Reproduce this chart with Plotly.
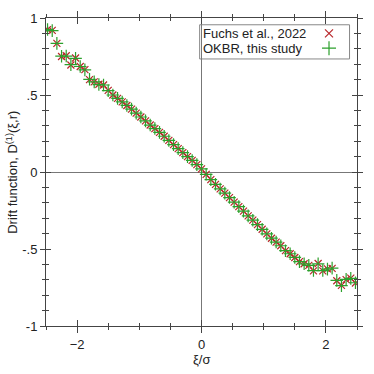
import plotly.graph_objects as go

# Datos
xi = [-2.475, -2.40, -2.325, -2.25, -2.175, -2.10, -2.025, -1.95, -1.875, -1.80,
      -1.725, -1.65, -1.575, -1.50, -1.425, -1.35, -1.275, -1.20, -1.125, -1.05,
      -0.975, -0.90, -0.825, -0.75, -0.675, -0.60, -0.525, -0.45, -0.375, -0.30,
      -0.225, -0.15, -0.075, 0.0, 0.075, 0.15, 0.225, 0.30, 0.375, 0.45,
      0.525, 0.60, 0.675, 0.75, 0.825, 0.90, 0.975, 1.05, 1.125, 1.20,
      1.275, 1.35, 1.425, 1.50, 1.575, 1.65, 1.725, 1.80, 1.875, 1.95,
      2.025, 2.10, 2.175, 2.25, 2.325, 2.40, 2.475]

fuchs = [0.925, 0.92, 0.835, 0.75, 0.755, 0.695, 0.74, 0.685, 0.665, 0.60,
         0.585, 0.57, 0.565, 0.53, 0.50, 0.478, 0.455, 0.432, 0.408, 0.382,
         0.357, 0.332, 0.305, 0.282, 0.257, 0.232, 0.205, 0.178, 0.152, 0.126,
         0.10, 0.075, 0.048, 0.02, -0.015, -0.05, -0.08, -0.11, -0.137, -0.166,
         -0.196, -0.225, -0.254, -0.285, -0.313, -0.342, -0.372, -0.402, -0.430, -0.455,
         -0.479, -0.511, -0.531, -0.555, -0.582, -0.596, -0.606, -0.642, -0.594, -0.642,
         -0.629, -0.626, -0.706, -0.736, -0.699, -0.689, -0.721]

okbr = [0.925, 0.918, 0.835, 0.752, 0.753, 0.697, 0.738, 0.685, 0.663, 0.602,
        0.585, 0.568, 0.565, 0.528, 0.50, 0.478, 0.455, 0.432, 0.408, 0.382,
        0.357, 0.332, 0.305, 0.282, 0.257, 0.232, 0.205, 0.178, 0.152, 0.126,
        0.10, 0.075, 0.048, 0.02, -0.015, -0.05, -0.08, -0.11, -0.137, -0.166,
        -0.196, -0.225, -0.254, -0.285, -0.313, -0.342, -0.372, -0.402, -0.430, -0.455,
        -0.479, -0.511, -0.531, -0.555, -0.582, -0.596, -0.606, -0.640, -0.596, -0.640,
        -0.631, -0.624, -0.704, -0.738, -0.697, -0.691, -0.719]

series_names = ["Fuchs et al., 2022", "OKBR, this study"]
x_ticks = [-2, 0, 2]
y_ticks = [-1, -0.5, 0, 0.5, 1]
y_tick_labels = ["-1", "-.5", "0", ".5", "1"]

red = "#b8262a"
green = "#2ca02c"
font = "Liberation Sans, Arial, sans-serif"
fs = 13

fig = go.Figure()

fig.add_trace(go.Scatter(
    x=xi, y=fuchs, mode="markers", name=series_names[0],
    marker=dict(symbol="x-thin", size=7, line=dict(color=red, width=1.2))
))
fig.add_trace(go.Scatter(
    x=xi, y=okbr, mode="markers", name=series_names[1],
    marker=dict(symbol="cross-thin", size=9, line=dict(color=green, width=1.2))
))

# eje superpuesto solo para las marcas hacia dentro
fig.add_trace(go.Scatter(x=[None], y=[None], xaxis="x2", yaxis="y2",
                         showlegend=False, hoverinfo="skip"))

# marcadores de la leyenda (a la derecha del texto)
fig.add_trace(go.Scatter(
    x=[0.91], y=[0.95], xaxis="x3", yaxis="y3", mode="markers", showlegend=False,
    marker=dict(symbol="x-thin", size=8, line=dict(color=red, width=1.2))
))
fig.add_trace(go.Scatter(
    x=[0.91], y=[0.902], xaxis="x3", yaxis="y3", mode="markers", showlegend=False,
    marker=dict(symbol="cross-thin", size=10, line=dict(color=green, width=1.2))
))

axis_common = dict(showgrid=False, linecolor="#444", linewidth=1, mirror="ticks",
                   tickcolor="#444", tickfont=dict(size=fs, color="#222"))

fig.update_layout(
    width=374, height=374,
    margin=dict(l=46, r=14, t=11, b=48),
    paper_bgcolor="white", plot_bgcolor="white",
    font=dict(family=font, size=fs, color="#222"),
    showlegend=False,
    xaxis=dict(range=[-2.5, 2.5], tickvals=x_ticks, ticks="outside", ticklen=6,
               minor=dict(dtick=0.5, ticks="outside", ticklen=3, tickcolor="#444"),
               zeroline=True, zerolinecolor="#777", zerolinewidth=1,
               **axis_common),
    yaxis=dict(range=[-1, 1], tickvals=y_ticks, ticktext=y_tick_labels,
               ticks="outside", ticklen=5,
               minor=dict(dtick=0.1, ticks="outside", ticklen=3, tickcolor="#444"),
               zeroline=True, zerolinecolor="#777", zerolinewidth=1,
               **axis_common),
    xaxis2=dict(overlaying="x", range=[-2.5, 2.5], tickvals=x_ticks, ticks="inside",
                ticklen=6, mirror="ticks", showline=False, showticklabels=False,
                showgrid=False, zeroline=False, tickcolor="#444",
                minor=dict(dtick=0.5, ticks="inside", ticklen=3, tickcolor="#444")),
    yaxis2=dict(overlaying="y", range=[-1, 1], tickvals=y_ticks, ticks="inside",
                ticklen=5, mirror="ticks", showline=False, showticklabels=False,
                showgrid=False, zeroline=False, tickcolor="#444",
                minor=dict(dtick=0.1, ticks="inside", ticklen=3, tickcolor="#444")),
    xaxis3=dict(overlaying="x", range=[0, 1], visible=False),
    yaxis3=dict(overlaying="y", range=[0, 1], visible=False),
)

# caja de la leyenda
fig.add_shape(type="rect", xref="paper", yref="paper",
              x0=0.494, x1=0.976, y0=0.867, y1=0.978,
              line=dict(color="#888", width=1), fillcolor="white", layer="below")

fig.add_annotation(x=0.497, y=0.95, xref="paper", yref="paper", text=series_names[0],
                   showarrow=False, xanchor="left", yanchor="middle",
                   font=dict(size=fs, color="#222"))
fig.add_annotation(x=0.497, y=0.902, xref="paper", yref="paper", text=series_names[1],
                   showarrow=False, xanchor="left", yanchor="middle",
                   font=dict(size=fs, color="#222"))

# títulos de los ejes
fig.add_annotation(x=-0.110, y=0.5, xref="paper", yref="paper",
                   text="Drift function, D<sup>(1)</sup>(ξ,r)", textangle=-90,
                   showarrow=False, xanchor="center", yanchor="middle",
                   font=dict(size=fs, color="#222"))
fig.add_annotation(x=0.5, y=-0.108, xref="paper", yref="paper", text="ξ/σ",
                   showarrow=False, xanchor="center", yanchor="middle",
                   font=dict(size=fs, color="#222"))

fig.write_html("out.html", config={"displayModeBar": False},
               post_script="document.body.style.margin='0';")
